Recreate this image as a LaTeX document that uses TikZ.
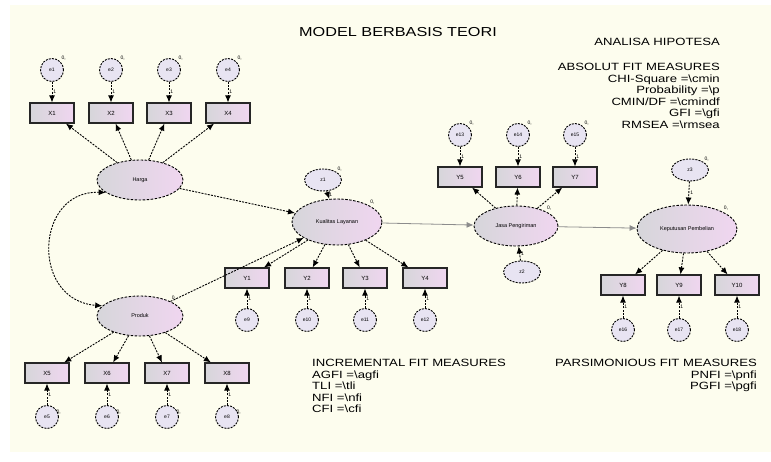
\documentclass[tikz,border=0pt]{standalone}
\usepackage{fontspec}
\setmainfont{Liberation Sans}
\newfontfamily\statfont[FakeStretch=1.25]{Liberation Sans}
\usetikzlibrary{arrows.meta,shapes.geometric}
\definecolor{cream}{RGB}{253,253,238}
\definecolor{lgrey}{RGB}{214,214,218}
\definecolor{lpink}{RGB}{240,214,240}
\definecolor{lviolet}{RGB}{232,228,242}
\tikzset{
  latent/.style={ellipse, draw, dash pattern=on 2.5pt off 1.5pt, line width=0.9pt,
    left color=lgrey, right color=lpink, inner sep=0pt, font=\fontsize{5.5}{6}\selectfont},
  obs/.style={rectangle, draw=black!85, line width=1.2pt, left color=lgrey, right color=lpink,
    minimum width=44pt, minimum height=20pt, inner sep=0pt, font=\fontsize{6}{7}\selectfont},
  err/.style={circle, draw, dash pattern=on 2pt off 1.2pt, line width=0.9pt, fill=lviolet,
    minimum size=23pt, inner sep=0pt, font=\fontsize{5}{6}\selectfont},
  resid/.style={ellipse, draw, dash pattern=on 2pt off 1.2pt, line width=0.9pt, fill=lviolet,
    minimum width=37pt, minimum height=22pt, inner sep=0pt, font=\fontsize{5}{6}\selectfont},
  link/.style={dash pattern=on 2pt off 1.2pt, line width=0.9pt, -{Latex[length=7pt,width=6pt]}},
  flow/.style={draw=black!45, line width=0.8pt, -{Latex[length=7pt,width=6pt]}},
  cov/.style={dash pattern=on 2pt off 1.2pt, line width=0.9pt, {Latex[length=7pt,width=6pt]}-{Latex[length=7pt,width=6pt]}},
  tiny/.style={font=\fontsize{5}{5}\selectfont, inner sep=1pt},
  stat/.style={font=\statfont\fontsize{10.5}{11.5}\selectfont, inner sep=0pt}
}
\begin{document}
\begin{tikzpicture}[x=1pt,y=-1pt]
\useasboundingbox (0,0) rectangle (771,462);
\fill[white] (0,0) rectangle (771,462);
\fill[cream] (10,5) rectangle (771,452);

% latent variables
\node[latent, minimum width=86pt, minimum height=40pt] (harga) at (140,180) {Harga};
\node[latent, minimum width=86pt, minimum height=40pt] (produk) at (140,316) {Produk};
\node[latent, minimum width=90pt, minimum height=46pt] (kual) at (337,222) {Kualitas Layanan};
\node[latent, minimum width=84pt, minimum height=40pt] (jasa) at (516,226) {Jasa Pengiriman};
\node[latent, minimum width=100pt, minimum height=48pt] (kep) at (687,229) {Keputusan Pembelian};
\node[resid] (z1) at (323,180) {z1};
\node[resid] (z2) at (522,272) {z2};
\node[resid] (z3) at (690,170) {z3};

\foreach \i/\x in {1/52,2/111,3/169,4/228}{
	\node[obs] (x\i) at (\x,113) {X\i};
	\node[err] (e\i) at (\x,70) {e\i};
	\node[tiny, anchor=south west] (ve\i) at (e\i.north east) {0,};
	\draw[link] (e\i) -- node[tiny, right] (le\i) {1} (x\i);
	\draw[link] (harga) -- (x\i);
}
\foreach \i/\x in {5/47,6/107,7/167,8/227}{
	\node[obs] (x\i) at (\x,373) {X\i};
	\node[err] (e\i) at (\x,417) {e\i};
	\node[tiny, anchor=north west] (ve\i) at (e\i.north east) {0,};
	\draw[link] (e\i) -- node[tiny, right] (le\i) {1} (x\i);
	\draw[link] (produk) -- (x\i);
}
\foreach \i/\j/\x in {1/9/247,2/10/307,3/11/365,4/12/425}{
	\node[obs] (y\i) at (\x,278) {Y\i};
	\node[err] (e\j) at (\x,320) {e\j};
	\draw[link] (e\j) -- node[tiny, right] (le\j) {1} (y\i);
	\draw[link] (kual) -- (y\i);
}
\foreach \i/\j/\x in {5/13/460,6/14/518,7/15/575}{
	\node[obs] (y\i) at (\x,177) {Y\i};
	\node[err] (e\j) at (\x,135) {e\j};
	\node[tiny, anchor=south west] (ve\j) at (e\j.north east) {0,};
	\draw[link] (e\j) -- node[tiny, right] (le\j) {1} (y\i);
	\draw[link] (jasa) -- (y\i);
}
\foreach \i/\j/\x in {8/16/623,9/17/679,10/18/737}{
	\node[obs] (y\i) at (\x,285) {Y\i};
	\node[err] (e\j) at (\x,330) {e\j};
	\draw[link] (e\j) -- node[tiny, right] (le\j) {1} (y\i);
	\draw[link] (kep) -- (y\i);
}

% structural paths
\draw[link] (harga) -- (kual);
\draw[link] (produk) -- (kual);
\draw[flow] (kual) -- (jasa);
\draw[flow] (jasa) -- (kep);
\draw[link] (z1) -- node[tiny, right] (lz1) {1} (kual);
\draw[link] (z2) -- node[tiny, right] (lz2) {1} (jasa);
\draw[link] (z3) -- node[tiny, right] (lz3) {1} (kep);
\draw[cov] (harga.200) .. controls (35,190) and (30,300) .. (produk.165);
\node[tiny, anchor=south west] (vz1) at (z1.north east) {0,};
\node[tiny, anchor=south west] (vz3) at (z3.north east) {0,};
\node[tiny, anchor=south west] (vk) at (kual.north east) {0,};
\node[tiny, anchor=south west] (vj) at (jasa.north east) {0,};
\node[tiny, anchor=south west] (vp) at (kep.north east) {0,};
\node[tiny, anchor=south west] (vh) at (produk.north east) {0,};

% texts
\node[stat, font=\statfont\fontsize{13}{15}\selectfont] (judul) at (398,32) {MODEL BERBASIS TEORI};
\node[stat, anchor=east] (hipo) at (720,42) {ANALISA HIPOTESA};
\node[stat, anchor=north east, align=right] (absfit) at (720,63) {ABSOLUT FIT MEASURES\\
CHI-Square =\textbackslash cmin\\
Probability =\textbackslash p\\
CMIN/DF =\textbackslash cmindf\\
GFI =\textbackslash gfi\\
RMSEA =\textbackslash rmsea};
\node[stat, anchor=north east, align=right] (parfit) at (757,359) {PARSIMONIOUS FIT MEASURES\\
PNFI =\textbackslash pnfi\\
PGFI =\textbackslash pgfi};
\node[stat, anchor=north west, align=left] (incfit) at (312,359) {INCREMENTAL FIT MEASURES\\
AGFI =\textbackslash agfi\\
TLI =\textbackslash tli\\
NFI =\textbackslash nfi\\
CFI =\textbackslash cfi};
\end{tikzpicture}
\end{document}
